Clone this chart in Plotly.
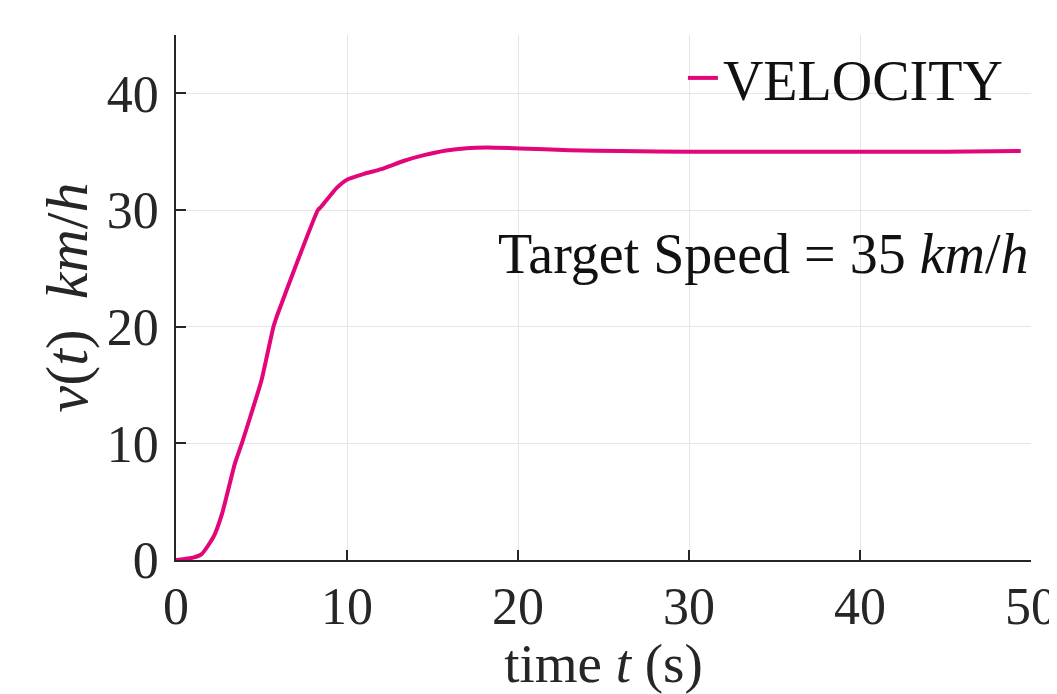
import plotly.graph_objects as go

# Data
time_s = [0, 1.0, 1.5, 2.2, 2.7, 3.45, 3.85, 4.35, 5.0, 5.7, 5.9, 6.0, 7.0, 8.3, 8.5,
          9.4, 10.0, 11.0, 12.0, 13.3, 14.5, 15.8, 17.0, 18.2, 20.1, 23.0, 26.0,
          30.0, 35.0, 40.0, 45.0, 49.4]
velocity = [0, 0.2, 0.5, 2.0, 4.0, 8.3, 10.0, 12.3, 15.4, 20.0, 20.9, 21.3, 25.2, 30.0, 30.3,
            31.9, 32.6, 33.1, 33.5, 34.2, 34.7, 35.1, 35.3, 35.35, 35.28, 35.13, 35.05,
            35.0, 35.0, 35.0, 35.0, 35.05]
x_ticks = [0, 10, 20, 30, 40, 50]
y_ticks = [0, 10, 20, 30, 40]

FONT = "Liberation Serif"
AX = "#262626"

fig = go.Figure()
fig.add_trace(go.Scatter(x=time_s, y=velocity, mode="lines", name="VELOCITY",
                         line=dict(color="#E2067A", width=4, shape="spline", smoothing=0.5)))

fig.add_annotation(text="Target Speed = 35 <i>km</i>/<i>h</i>", xref="paper", x=1.0,
                   xanchor="right", yref="y", y=26.2, yanchor="middle", showarrow=False,
                   font=dict(family=FONT, size=56, color="#111111"))

axis_common = dict(showgrid=True, gridcolor="#e5e5e5", gridwidth=1,
                   showline=True, linecolor=AX, linewidth=1.5,
                   ticks="inside", ticklen=10, tickwidth=1.5, tickcolor=AX,
                   tickfont=dict(family=FONT, size=52, color=AX),
                   zeroline=False, mirror=False, automargin=False)

fig.update_xaxes(range=[0, 50], tickvals=x_ticks,
                 title=dict(text="time <i>t</i> (s)", font=dict(family=FONT, size=55, color=AX),
                            standoff=4),
                 **axis_common)
fig.update_yaxes(range=[0, 45], tickvals=y_ticks, ticklabelstandoff=5,
                 title=dict(text="<i>v</i>(<i>t</i>)  <i>km</i>/<i>h</i>",
                            font=dict(family=FONT, size=60, color=AX), standoff=0),
                 **axis_common)

fig.update_layout(
    width=1049, height=686,
    margin=dict(l=168, r=26, t=27, b=134),
    plot_bgcolor="white", paper_bgcolor="white",
    showlegend=True,
    legend=dict(x=0.973, xanchor="right", y=1.0, yanchor="top",
                bgcolor="rgba(0,0,0,0)", borderwidth=0,
                font=dict(family=FONT, size=56, color="#111111")),
)

fig.write_html("out.html")
